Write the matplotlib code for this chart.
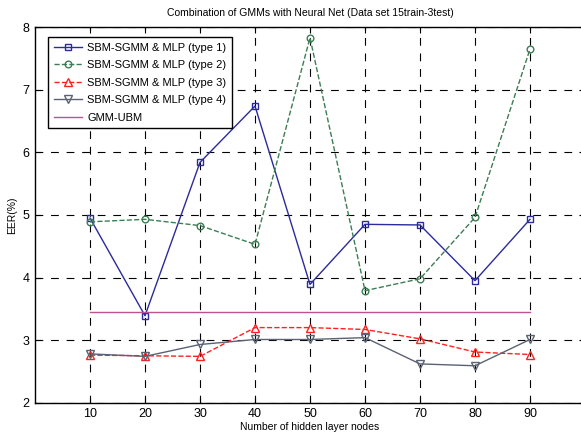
import matplotlib
matplotlib.use("Agg")
import matplotlib.pyplot as plt

nodes = [10, 20, 30, 40, 50, 60, 70, 80, 90]
type1 = [4.95, 3.39, 5.84, 6.74, 3.89, 4.85, 4.84, 3.95, 4.93]
type2 = [4.89, 4.93, 4.83, 4.53, 7.83, 3.79, 3.98, 4.96, 7.65]
type3 = [2.76, 2.75, 2.74, 3.20, 3.20, 3.17, 3.02, 2.81, 2.77]
type4 = [2.78, 2.74, 2.93, 3.01, 3.01, 3.04, 2.62, 2.59, 3.01]
gmm_ubm = [3.45] * len(nodes)

plt.rcParams["font.family"] = ["Liberation Sans", "DejaVu Sans"]

fig = plt.figure(figsize=(5.81, 4.33), dpi=100)
ax = fig.add_axes([35 / 581, 1 - 402.7 / 433, 550 / 581, 375.5 / 433])

ax.plot(nodes, type1, color="#2b2b9b", lw=1.0, marker="s", ms=4.8,
        mfc="none", mew=1.0, label="SBM-SGMM & MLP (type 1)")
ax.plot(nodes, type2, color="#3d7d55", lw=1.0, ls="--", marker="o", ms=4.8,
        mfc="none", mew=1.0, label="SBM-SGMM & MLP (type 2)")
ax.plot(nodes, type3, color="#ff2020", lw=1.0, ls="--", marker="^", ms=5.2,
        mfc="none", mew=1.0, label="SBM-SGMM & MLP (type 3)")
ax.plot(nodes, type4, color="#5a6273", lw=1.0, marker="v", ms=5.2,
        mfc="none", mew=1.0, label="SBM-SGMM & MLP (type 4)")
ax.plot(nodes, gmm_ubm, color="#c0508f", lw=1.0, label="GMM-UBM")

ax.set_xlim(0, 100)
ax.set_ylim(2, 8)
ax.set_xticks(nodes)
ax.set_yticks(range(2, 9))
ax.tick_params(direction="in", length=4, width=0.8, top=True, right=True,
               labelsize=9, pad=4)
ax.grid(True, color="black", ls=(0, (7, 7)), lw=0.8)
for s in ax.spines.values():
    s.set_linewidth(1.0)

ax.set_title("Combination of GMMs with Neural Net (Data set 15train-3test)",
             fontsize=7.5, pad=8)
ax.set_xlabel("Number of hidden layer nodes", fontsize=7.5, labelpad=1)
ax.set_ylabel("EER(%)", fontsize=7.5, labelpad=4)

leg = ax.legend(loc="upper left", bbox_to_anchor=(0.024, 0.974), fontsize=8,
                fancybox=False, framealpha=1, edgecolor="black",
                borderaxespad=0, handlelength=2.5, borderpad=0.5,
                labelspacing=0.68, handletextpad=0.5)
leg.get_frame().set_linewidth(1.0)

fig.savefig("out.png", dpi=100)
